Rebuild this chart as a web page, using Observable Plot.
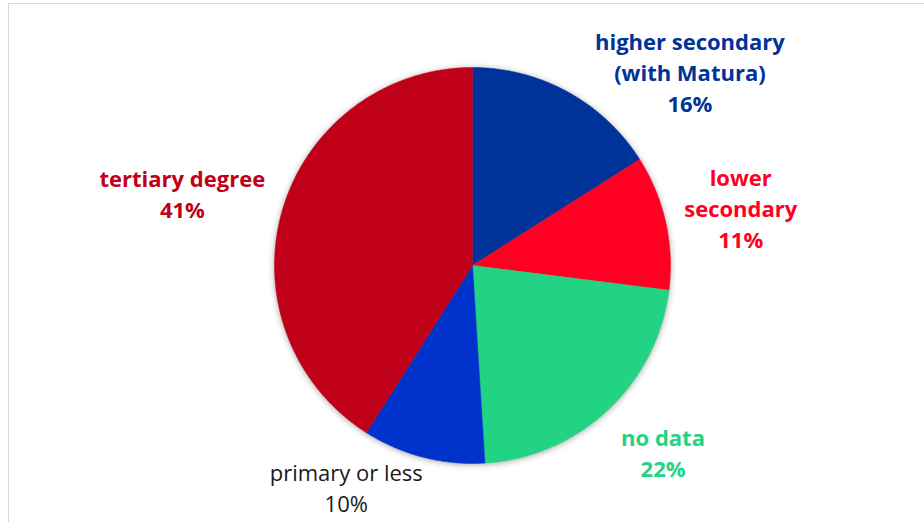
<!DOCTYPE html>
<html>
<head>
<meta charset="utf-8">
<script src="https://cdn.jsdelivr.net/npm/d3@7"></script>
<script src="https://cdn.jsdelivr.net/npm/@observablehq/plot@0.6"></script>
<style>
  html, body { margin: 0; padding: 0; background: #fff; }
  #wrap { position: relative; width: 924px; height: 522px; overflow: hidden; }
  #frame { position: absolute; left: 8px; top: 3px; right: -10px; bottom: -10px;
           border-left: 1.5px solid #d6d6d6; border-top: 1.5px solid #dcdcdc; pointer-events: none; }
</style>
</head>
<body>
<div id="wrap"><div id="frame"></div></div>
<script>
// ---- data ----
const categories = ["higher secondary (with Matura)", "lower secondary", "no data", "primary or less", "tertiary degree"];
const shares = [16, 11, 22, 10, 41];
const labelLines = ["higher secondary\n(with Matura)", "lower\nsecondary", "no data", "primary or less", "tertiary degree"];
const sliceColors = ["#003399", "#FF0022", "#22D384", "#0033CC", "#C00018"];
const labelColors = ["#003399", "#FF0022", "#22D384", "#1a1a1a", "#C00018"];
const labelWeights = ["bold", "bold", "bold", "normal", "bold"];

// ---- layout (pixel offsets of each label from its slice's rim midpoint) ----
const R = 198;
const labelOffsets = [[122, -21], [75, -15], [55, 42], [-77, 29], [-100, -18]];

const arcs = d3.pie().sort(null).value(d => d)(shares);

// polygon outline for each slice, in pixel-like units with the pie centre at (0,0)
const pts = [];
arcs.forEach((a, i) => {
  const name = categories[i];
  pts.push({name, x: 0, y: 0});
  const n = Math.max(2, Math.ceil((a.endAngle - a.startAngle) / (Math.PI / 360)));
  for (let k = 0; k <= n; k++) {
    const t = a.startAngle + (a.endAngle - a.startAngle) * k / n;
    pts.push({name, x: R * Math.sin(t), y: R * Math.cos(t)});
  }
});

const labels = arcs.map((a, i) => {
  const m = (a.startAngle + a.endAngle) / 2;
  return {
    name: categories[i],
    text: labelLines[i] + "\n" + shares[i] + "%",
    x: R * Math.sin(m) + labelOffsets[i][0],
    y: R * Math.cos(m) - labelOffsets[i][1],
    color: labelColors[i],
    weight: labelWeights[i]
  };
});

const textMarks = labels.map(l => Plot.text([l], {
  x: "x", y: "y", text: "text",
  fill: l.color, fontWeight: l.weight,
  fontSize: 22, lineHeight: 1.41,
  textAnchor: "middle", frameAnchor: "middle"
}));

const chart = Plot.plot({
  width: 924,
  height: 522,
  margin: 0,
  style: {fontFamily: "'Open Sans', Lato, sans-serif", background: "transparent"},
  x: {domain: [-472, 452], axis: null},
  y: {domain: [-257, 265], axis: null},
  color: {domain: categories, range: sliceColors},
  marks: [
    Plot.line(pts, {x: "x", y: "y", z: "name", fill: "name", stroke: "name", strokeWidth: 0.5, curve: "linear-closed"}),
    ...textMarks
  ]
});

const lineG = chart.querySelector('g[aria-label="line"]');
if (lineG) lineG.style.filter = "drop-shadow(0px 1px 3px rgba(0,0,0,0.35))";

document.getElementById("wrap").prepend(chart);
</script>
</body>
</html>
